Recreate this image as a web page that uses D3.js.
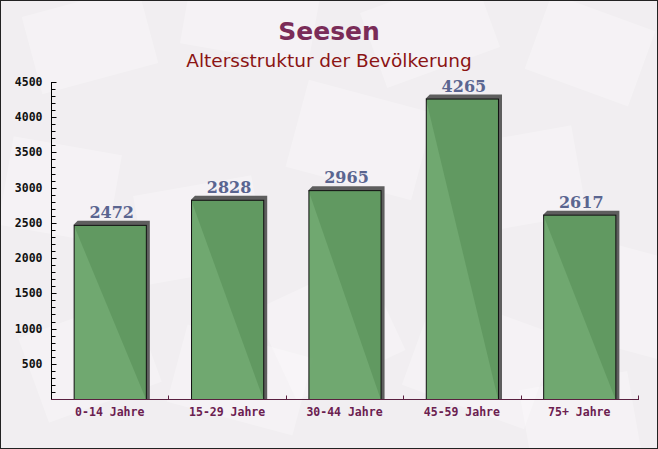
<!DOCTYPE html>
<html>
<head>
<meta charset="utf-8">
<script src="https://cdn.jsdelivr.net/npm/d3@7"></script>
<style>
  html, body { margin: 0; padding: 0; background: #fff; }
  svg { display: block; }
</style>
</head>
<body>
<div id="chart"></div>
<script>
const categories = ["0-14 Jahre", "15-29 Jahre", "30-44 Jahre", "45-59 Jahre", "75+ Jahre"]
const values = [2472, 2828, 2965, 4265, 2617]
const yTicks = [500, 1000, 1500, 2000, 2500, 3000, 3500, 4000, 4500]

// faint envelope shapes in the background: [cx, cy, w, h, angle]
const envelopes = [
  [90, 40, 120, 80, -15], [250, 20, 130, 70, 10], [430, 30, 120, 80, -20],
  [590, 50, 110, 80, 20], [60, 190, 110, 90, 10], [200, 230, 120, 90, -10],
  [360, 140, 130, 90, 15], [520, 180, 120, 90, -10], [630, 300, 100, 100, 15],
  [90, 360, 120, 90, -20], [240, 380, 130, 80, 15], [330, 330, 120, 100, -25],
  [480, 360, 130, 100, 20], [580, 420, 110, 80, -10]
]

const W = 658, H = 449
const margin = { left: 51, right: 20, top: 82, bottom: 50 }
const plotRight = 638, baseY = 399

const svg = d3.select("#chart").append("svg")
  .attr("width", W).attr("height", H)

svg.append("rect").attr("width", W).attr("height", H).attr("fill", "#f1eef1")

svg.append("g").selectAll("rect")
  .data(envelopes)
  .join("rect")
  .attr("x", d => -d[2] / 2).attr("y", d => -d[3] / 2)
  .attr("width", d => d[2]).attr("height", d => d[3])
  .attr("transform", d => `translate(${d[0]},${d[1]}) rotate(${d[4]})`)
  .attr("fill", "#fff").attr("opacity", 0.28)

const x = d3.scaleBand().domain(categories).range([margin.left, plotRight]).paddingInner(0.385).paddingOuter(0.193)
const xOuter = d3.scaleBand().domain(categories).range([margin.left, plotRight])
const y = d3.scaleLinear().domain([0, 4500]).range([baseY, margin.top])

// bars with 3D shadow
const off = 4
const bars = svg.append("g")
bars.selectAll("path.shadow")
  .data(values)
  .join("path")
  .attr("class", "shadow")
  .attr("d", (d, i) => {
    const x0 = x(categories[i]), x1 = x0 + x.bandwidth(), yt = y(d)
    return `M${x0},${yt} L${x0 + off},${yt - off} L${x1 + off},${yt - off} L${x1 + off},${baseY} L${x1},${baseY} Z`
  })
  .attr("fill", "#5e5e5e")

bars.selectAll("rect.bar")
  .data(values)
  .join("rect")
  .attr("class", "bar")
  .attr("x", (d, i) => x(categories[i]) + 0.5)
  .attr("y", d => y(d) + 0.5)
  .attr("width", x.bandwidth())
  .attr("height", d => baseY - y(d))
  .attr("fill", "#62a062").attr("fill-opacity", 0.9)
  .attr("stroke", "#111").attr("stroke-width", 1)

bars.selectAll("text")
  .data(values)
  .join("text")
  .attr("x", (d, i) => x(categories[i]) + x.bandwidth() / 2 + 2)
  .attr("y", d => y(d) - 7)
  .attr("text-anchor", "middle")
  .attr("font-family", "DejaVu Serif")
  .attr("font-weight", "bold")
  .attr("font-size", 16)
  .attr("fill", "#5a6590")
  .text(d => d)

// y axis
const yAxis = svg.append("g")
  .attr("transform", `translate(${margin.left + 0.5},0)`)
yAxis.append("line").attr("y1", margin.top).attr("y2", baseY).attr("stroke", "#000")
yAxis.append("line").attr("x2", 5).attr("y1", margin.top + 0.5).attr("y2", margin.top + 0.5).attr("stroke", "#000")
yAxis.selectAll("line.minor")
  .data(d3.range(100, 4500, 100))
  .join("line")
  .attr("class", "minor")
  .attr("x2", d => d % 500 === 0 ? 5 : 4)
  .attr("y1", d => Math.round(y(d)) + 0.5)
  .attr("y2", d => Math.round(y(d)) + 0.5)
  .attr("stroke", "#000")
yAxis.selectAll("text")
  .data(yTicks)
  .join("text")
  .attr("x", -9)
  .attr("y", d => y(d) + 4)
  .attr("text-anchor", "end")
  .attr("font-family", "DejaVu Sans Mono")
  .attr("font-weight", "bold")
  .attr("font-size", 11.5)
  .attr("fill", "#111")
  .text(d => d)

// x axis
const xAxis = svg.append("g").attr("transform", `translate(0,${baseY + 0.5})`)
xAxis.append("line").attr("x1", margin.left).attr("x2", plotRight + 1).attr("stroke", "#5a2040")
xAxis.selectAll("line.tick")
  .data(categories)
  .join("line")
  .attr("class", "tick")
  .attr("x1", d => Math.round(xOuter(d) + xOuter.bandwidth()) + 0.5)
  .attr("x2", d => Math.round(xOuter(d) + xOuter.bandwidth()) + 0.5)
  .attr("y1", 0).attr("y2", -4)
  .attr("stroke", "#5a2040")
xAxis.selectAll("text")
  .data(categories)
  .join("text")
  .attr("x", d => x(d) + x.bandwidth() / 2)
  .attr("y", 16)
  .attr("text-anchor", "middle")
  .attr("font-family", "DejaVu Sans Mono")
  .attr("font-weight", "bold")
  .attr("font-size", 11.5)
  .attr("fill", "#6b2050")
  .text(d => d)

// titles
svg.append("text")
  .attr("x", 329).attr("y", 40)
  .attr("text-anchor", "middle")
  .attr("font-family", "DejaVu Sans")
  .attr("font-weight", "bold")
  .attr("font-size", 25)
  .attr("fill", "#7a2c58")
  .text("Seesen")
svg.append("text")
  .attr("x", 329).attr("y", 67)
  .attr("text-anchor", "middle")
  .attr("font-family", "DejaVu Sans")
  .attr("font-size", 18.5)
  .attr("fill", "#8b1414")
  .text("Altersstruktur der Bevölkerung")

// frame
svg.append("rect").attr("x", 0.5).attr("y", 0.5).attr("width", W - 1).attr("height", H - 1)
  .attr("fill", "none").attr("stroke", "#222")
</script>
</body>
</html>
